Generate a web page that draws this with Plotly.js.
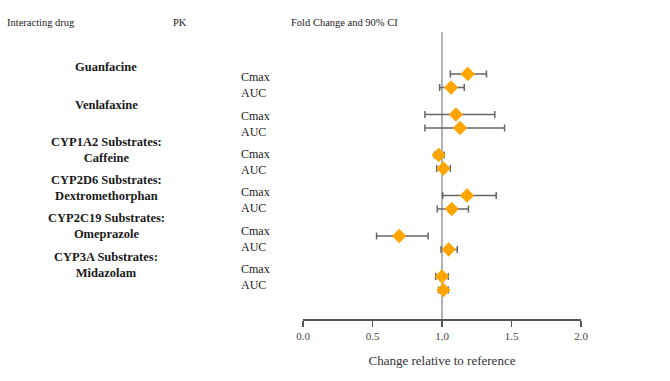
<!DOCTYPE html>
<html>
<head>
<meta charset="utf-8">
<script src="https://cdn.plot.ly/plotly-3.0.1.min.js"></script>
<style>html,body{margin:0;padding:0;background:#fff;}#chart{width:670px;height:381px;}</style>
</head>
<body>
<div id="chart"></div>
<script>
// ---- data ----
const drugs = ['Guanfacine', 'Venlafaxine', 'CYP1A2 Substrates:<br>Caffeine',
  'CYP2D6 Substrates:<br>Dextromethorphan', 'CYP2C19 Substrates:<br>Omeprazole',
  'CYP3A Substrates:<br>Midazolam'];
const pkParams = ['Cmax', 'AUC'];
const cmaxFold = [1.185, 1.10, 0.976, 1.18, 0.692, 1.00];
const cmaxLo   = [1.06, 0.877, 0.945, 1.005, 0.529, 0.955];
const cmaxHi   = [1.32, 1.38, 1.015, 1.39, 0.90, 1.045];
const aucFold  = [1.065, 1.13, 1.01, 1.07, 1.048, 1.01];
const aucLo    = [0.983, 0.877, 0.962, 0.966, 0.993, 0.976];
const aucHi    = [1.16, 1.45, 1.06, 1.19, 1.11, 1.045];
const xTicks = [0, 0.5, 1, 1.5, 2];
const xTickText = ['0.0', '0.5', '1.0', '1.5', '2.0'];
const headers = ['Interacting drug', 'PK', 'Fold Change and 90% CI'];
const xTitle = 'Change relative to reference';

// ---- layout helpers ----
const W = 670, H = 381;
const plotL = 303.3, plotR = 580.7, plotT = 32, plotB = 319;
const px2x = p => (p - plotL) / (plotR - plotL);
const px2y = p => (plotB - p) / (plotB - plotT);
const serif = 'Liberation Serif, Times New Roman, serif';

// rows: group g -> header row 3g, Cmax 3g+1, AUC 3g+2
const xs = [], ys = [], plus = [], minus = [];
drugs.forEach((d, g) => {
  xs.push(cmaxFold[g]); ys.push(3 * g + 1);
  plus.push(cmaxHi[g] - cmaxFold[g]); minus.push(cmaxFold[g] - cmaxLo[g]);
  xs.push(aucFold[g]); ys.push(3 * g + 2);
  plus.push(aucHi[g] - aucFold[g]); minus.push(aucFold[g] - aucLo[g]);
});

const trace = {
  type: 'scatter', mode: 'markers', x: xs, y: ys,
  marker: {symbol: 'diamond', size: 11, color: '#FFA500'},
  error_x: {type: 'data', symmetric: false, array: plus, arrayminus: minus,
            color: '#666666', thickness: 1.5, width: 3.5},
  hoverinfo: 'x', showlegend: false
};

const ann = [];
const headerX = [6, 180.5, 345];
const headerAnchor = ['left', 'center', 'center'];
headers.forEach((h, i) => ann.push({
  xref: 'paper', yref: 'paper', x: px2x(headerX[i]), y: px2y(22),
  xanchor: headerAnchor[i], yanchor: 'middle', text: h, showarrow: false,
  font: {family: serif, size: 10.5, color: '#1a1a1a'}
}));
drugs.forEach((d, g) => {
  const cy = 79 + 38.4 * g;           // pixel centre of the "Cmax" line
  const nLines = d.split('<br>').length;
  const firstLine = cy - 12.5;
  const lastLine = firstLine + 12.5 * (nLines - 1);
  ann.push({
    xref: 'paper', yref: 'paper', x: px2x(107), y: px2y((firstLine + lastLine) / 2),
    xanchor: 'center', yanchor: 'middle', align: 'center',
    text: '<b>' + d.split('<br>').join('</b><br><b>') + '</b>', showarrow: false,
    font: {family: serif, size: 12.5, color: '#1a1a1a'}, borderpad: 0
  });
  ann.push({
    xref: 'paper', yref: 'paper', x: px2x(240), y: px2y(cy + 6.15),
    xanchor: 'left', yanchor: 'middle', align: 'left',
    text: pkParams.join('<br>'), showarrow: false,
    font: {family: serif, size: 12, color: '#1a1a1a'}, borderpad: 0
  });
});

const r0 = 60.5, rowPx = 13.5;
const layout = {
  width: W, height: H,
  margin: {l: plotL, r: W - plotR, t: plotT, b: H - plotB, pad: 0},
  paper_bgcolor: '#fff', plot_bgcolor: '#fff',
  xaxis: {
    range: [0, 2], tickvals: xTicks, ticktext: xTickText,
    showgrid: false, zeroline: false, showline: true, linecolor: '#555', linewidth: 1.5,
    ticks: 'outside', ticklen: 6, tickwidth: 1.5, tickcolor: '#555',
    tickfont: {family: serif, size: 11, color: '#444'},
    title: {text: xTitle, font: {family: serif, size: 13, color: '#333'}, standoff: 15},
    automargin: false, fixedrange: true
  },
  yaxis: {
    range: [(plotB - r0) / rowPx, (plotT - r0) / rowPx],
    visible: false, showgrid: false, zeroline: false, fixedrange: true
  },
  shapes: [{type: 'line', xref: 'x', yref: 'paper', x0: 1, x1: 1, y0: 0, y1: 1,
            line: {color: '#999', width: 1.5}, layer: 'below'}],
  annotations: ann
};

Plotly.newPlot('chart', [trace], layout, {displayModeBar: false, staticPlot: true});
</script>
</body>
</html>
